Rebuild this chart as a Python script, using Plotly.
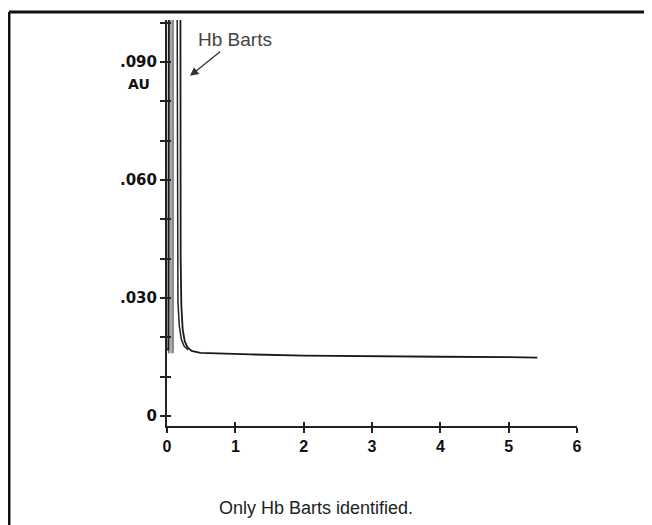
import plotly.graph_objects as go

# Chromatogram: retention time (min) vs absorbance (AU)
time_min = [0.00, 0.02, 0.03, 0.195, 0.20, 0.21, 0.23, 0.26, 0.30, 0.36, 0.49,
            0.80, 1.22, 2.00, 3.00, 4.00, 5.00, 5.42]
absorbance = [0.0170, 0.0170, 0.1300, 0.1300, 0.0400, 0.0280, 0.0220, 0.0190,
              0.0175, 0.0166, 0.0161, 0.0159, 0.0157, 0.0154, 0.0152, 0.0151,
              0.0150, 0.0149]

# second stroke of the off-scale Hb Barts peak
inner_time = [0.145, 0.15, 0.16, 0.18, 0.21, 0.25, 0.31]
inner_abs = [0.1300, 0.0400, 0.0290, 0.0230, 0.0195, 0.0178, 0.0168]

# shaded band inside the peak
band_time = [0.02, 0.02, 0.09, 0.09]
band_abs = [0.0160, 0.1300, 0.1300, 0.0160]

x_ticks = [0, 1, 2, 3, 4, 5, 6]
x_tick_labels = ["0", "1", "2", "3", "4", "5", "6"]
y_ticks = [0, 0.03, 0.06, 0.09]
y_tick_labels = ["0", ".030", ".060", ".090"]

peak_label = "Hb Barts"
caption = "Only Hb Barts identified."

X_RANGE = [0, 6]
Y_RANGE = [-0.0025, 0.1007]

fig = go.Figure()
fig.add_trace(go.Scatter(x=band_time, y=band_abs, mode="lines", fill="toself",
                         fillcolor="rgba(110,110,110,0.6)",
                         line=dict(color="#555", width=1), hoverinfo="skip"))
fig.add_trace(go.Scatter(x=inner_time, y=inner_abs, mode="lines",
                         line=dict(color="#222", width=1.5)))
fig.add_trace(go.Scatter(x=time_min, y=absorbance, mode="lines",
                         xaxis="x2", yaxis="y2",
                         line=dict(color="#1a1a1a", width=1.8)))

tick_col = "#222"

fig.update_layout(
    width=644, height=517,
    margin=dict(l=159, r=75, t=12, b=99),
    paper_bgcolor="white", plot_bgcolor="white",
    showlegend=False,
    xaxis=dict(range=X_RANGE, tickvals=x_ticks, ticktext=x_tick_labels,
               showgrid=False, zeroline=False, showline=True,
               linecolor=tick_col, linewidth=2,
               ticks="outside", ticklen=5, tickwidth=2, tickcolor=tick_col,
               tickfont=dict(family="Liberation Sans", size=16, color="#111",
                             weight="bold")),
    yaxis=dict(range=Y_RANGE, tickvals=y_ticks, ticktext=y_tick_labels,
               showgrid=False, zeroline=False, showline=True,
               linecolor=tick_col, linewidth=2,
               ticks="outside", ticklen=5, tickwidth=2, tickcolor=tick_col,
               minor=dict(dtick=0.01, tick0=0, ticks="outside", ticklen=5,
                          tickwidth=2, tickcolor=tick_col, showgrid=False),
               tickfont=dict(family="DejaVu Sans", size=15, color="#111",
                             weight="bold")),
    xaxis2=dict(overlaying="x", side="bottom", anchor="y2", range=X_RANGE,
                tickvals=x_ticks, showticklabels=False, showgrid=False,
                zeroline=False, showline=False,
                ticks="inside", ticklen=4, tickwidth=2, tickcolor=tick_col),
    yaxis2=dict(overlaying="y", side="left", anchor="x2", range=Y_RANGE,
                tickvals=y_ticks, showticklabels=False, showgrid=False,
                zeroline=False, showline=False,
                ticks="inside", ticklen=4, tickwidth=2, tickcolor=tick_col,
                minor=dict(dtick=0.01, tick0=0, ticks="inside", ticklen=4,
                           tickwidth=2, tickcolor=tick_col, showgrid=False)),
    annotations=[
        dict(x=0.337, y=0.0865, xref="x", yref="y", text=peak_label,
             showarrow=True, ax=45, ay=-36, arrowhead=2, arrowsize=1.3,
             arrowwidth=1.3, arrowcolor="#333",
             font=dict(family="Liberation Sans", size=19, color="#444")),
        dict(x=-0.100, y=0.866, xref="paper", yref="paper", text="AU",
             showarrow=False,
             font=dict(family="DejaVu Sans", size=14, color="#111",
                       weight="bold")),
        dict(x=0.363, y=-0.231, xref="paper", yref="paper", text=caption,
             showarrow=False,
             font=dict(family="Liberation Sans", size=18, color="#222")),
    ],
    shapes=[
        dict(type="line", xref="paper", yref="paper", x0=-0.3854, x1=1.2,
             y0=1.0197, y1=1.0197, line=dict(color="#111", width=3)),
        dict(type="line", xref="paper", yref="paper", x0=-0.3854, x1=-0.3854,
             y0=1.0197, y1=-0.26, line=dict(color="#111", width=3)),
    ],
)

fig.write_html("out.html")
